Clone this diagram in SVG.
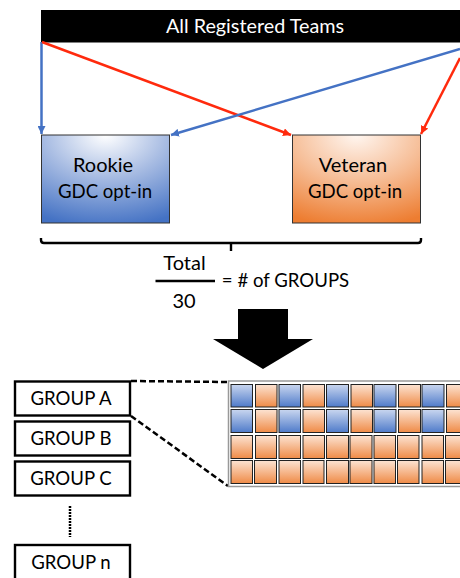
<svg xmlns="http://www.w3.org/2000/svg" width="460" height="578" viewBox="0 0 460 578">
<defs>
<radialGradient id="gb" cx="50%" cy="0%" r="105%"><stop offset="0" stop-color="#ffffff"/><stop offset="0.45" stop-color="#a9bde3"/><stop offset="1" stop-color="#4472c4"/></radialGradient>
<radialGradient id="go" cx="50%" cy="0%" r="105%"><stop offset="0" stop-color="#fff6f0"/><stop offset="0.5" stop-color="#f6bd96"/><stop offset="1" stop-color="#ed7d31"/></radialGradient>
<linearGradient id="cb" x1="0" y1="0" x2="0" y2="1"><stop offset="0" stop-color="#c9d6ef"/><stop offset="1" stop-color="#4f7bca"/></linearGradient>
<linearGradient id="co" x1="0" y1="0" x2="0" y2="1"><stop offset="0" stop-color="#fce3d2"/><stop offset="1" stop-color="#ef8b47"/></linearGradient>
<marker id="ab" markerUnits="userSpaceOnUse" markerWidth="9" markerHeight="8" refX="8" refY="4" orient="auto"><path d="M0 0L8 4L0 8Z" fill="#4472c4"/></marker>
<marker id="ar" markerUnits="userSpaceOnUse" markerWidth="9" markerHeight="8" refX="8" refY="4" orient="auto"><path d="M0 0L8 4L0 8Z" fill="#ff2a0d"/></marker>
</defs>
<style>
text{font-family:Lato,"Liberation Sans",sans-serif;fill:#000;text-anchor:middle}
.t{font-size:18.600px}
.h{font-size:19.800px;fill:#fff}
.f{font-size:20px}
.box{fill:#fff;stroke:#000;stroke-width:2.400}
.b{fill:url(#cb)}
.o{fill:url(#co)}
.cell{stroke:#222;stroke-width:1}
.blue{stroke:#4472c4;stroke-width:2.500;fill:none;marker-end:url(#ab)}
.red{stroke:#ff2a0d;stroke-width:2.500;fill:none;marker-end:url(#ar)}
.dash{stroke:#000;stroke-width:2.500;stroke-dasharray:6 3;fill:none}
</style>
<rect width="460" height="578" fill="#fff"/>
<g id="all-teams"><rect x="41" y="10" width="419" height="32.500" fill="#000"/><text x="255" y="33" class="h">All Registered Teams</text></g>
<g id="rookie"><rect x="41.500" y="135" width="128" height="88" fill="url(#gb)" stroke="#333" stroke-width="1"/><text x="103" y="172" class="f">Rookie</text><text x="105" y="198" class="t">GDC opt-in</text></g>
<g id="veteran"><rect x="292.500" y="135" width="128" height="88" fill="url(#go)" stroke="#333" stroke-width="1"/><text x="353" y="172" class="f">Veteran</text><text x="355" y="198" class="t">GDC opt-in</text></g>
<g id="connectors">
<path class="blue" d="M41.500 42V134"/>
<path class="red" d="M42 42L291 135"/>
<path class="blue" d="M460 49L171 135"/>
<path class="red" d="M460 58L421 134"/>
<path class="dash" d="M131 381L228 382"/>
<path class="dash" d="M131 416L228 486"/>
<path d="M70 506V537" stroke="#000" stroke-width="2.500" stroke-dasharray="2 1" fill="none"/>
</g>
<g id="brace"><path d="M41 238V240Q41 243 44 243H418Q421 243 421 240V238M231 243V251" fill="none" stroke="#000" stroke-width="2.400"/></g>
<g id="formula"><text x="184.500" y="270" class="f">Total</text><path d="M155.500 281H215" stroke="#000" stroke-width="2.400"/><text x="184" y="308" class="f">30</text><text x="285.500" y="287" class="t">= # of GROUPS</text></g>
<g id="big-arrow"><path d="M238 309H288V339H313L263 369L213 339H238Z" fill="#000"/></g>
<g id="group-a"><rect class="box" x="15" y="381.500" width="115" height="34"/><text x="71" y="405" class="t">GROUP A</text></g>
<g id="group-b"><rect class="box" x="15" y="421.500" width="115" height="34"/><text x="71" y="445" class="t">GROUP B</text></g>
<g id="group-c"><rect class="box" x="15" y="461.500" width="115" height="34"/><text x="71" y="485" class="t">GROUP C</text></g>
<g id="group-n"><rect class="box" x="15" y="545" width="115" height="36"/><text x="71" y="569" class="t">GROUP n</text></g>
<g id="grid">
<rect x="228.500" y="381" width="240" height="105.500" fill="#fff" stroke="#999" stroke-width="1.500"/>
<rect class="cell b" x="231" y="384.500" width="21.500" height="22.500"/><rect class="cell o" x="255.500" y="384.500" width="21.500" height="22.500"/><rect class="cell b" x="279" y="384.500" width="21.500" height="22.500"/><rect class="cell o" x="303" y="384.500" width="21.500" height="22.500"/><rect class="cell b" x="326.500" y="384.500" width="22" height="22.500"/><rect class="cell o" x="351" y="384.500" width="21.500" height="22.500"/><rect class="cell b" x="374" y="384.500" width="22" height="22.500"/><rect class="cell o" x="398.500" y="384.500" width="22" height="22.500"/><rect class="cell b" x="422" y="384.500" width="22" height="22.500"/><rect class="cell o" x="446.500" y="384.500" width="22" height="22.500"/>
<rect class="cell b" x="231" y="409.500" width="21.500" height="23"/><rect class="cell o" x="255.500" y="409.500" width="21.500" height="23"/><rect class="cell b" x="279" y="409.500" width="21.500" height="23"/><rect class="cell o" x="303" y="409.500" width="21.500" height="23"/><rect class="cell b" x="326.500" y="409.500" width="22" height="23"/><rect class="cell o" x="351" y="409.500" width="21.500" height="23"/><rect class="cell b" x="374" y="409.500" width="22" height="23"/><rect class="cell o" x="398.500" y="409.500" width="22" height="23"/><rect class="cell b" x="422" y="409.500" width="22" height="23"/><rect class="cell o" x="446.500" y="409.500" width="22" height="23"/>
<rect class="cell o" x="231" y="435.500" width="21.500" height="23"/><rect class="cell o" x="255.500" y="435.500" width="21" height="23"/><rect class="cell o" x="279" y="435.500" width="21.500" height="23"/><rect class="cell o" x="303" y="435.500" width="21.500" height="23"/><rect class="cell o" x="326.500" y="435.500" width="22" height="23"/><rect class="cell o" x="350" y="435.500" width="22" height="23"/><rect class="cell o" x="374" y="435.500" width="21.500" height="23"/><rect class="cell o" x="397.500" y="435.500" width="21.500" height="23"/><rect class="cell o" x="422" y="435.500" width="21.500" height="23"/><rect class="cell o" x="445.500" y="435.500" width="22" height="23"/>
<rect class="cell o" x="231" y="460.500" width="21.500" height="23"/><rect class="cell o" x="254.500" y="460.500" width="22" height="23"/><rect class="cell o" x="279" y="460.500" width="21.500" height="23"/><rect class="cell o" x="303" y="460.500" width="21" height="23"/><rect class="cell o" x="326.500" y="460.500" width="22" height="23"/><rect class="cell o" x="350" y="460.500" width="22" height="23"/><rect class="cell o" x="374" y="460.500" width="21.500" height="23"/><rect class="cell o" x="397.500" y="460.500" width="21.500" height="23"/><rect class="cell o" x="422" y="460.500" width="21.500" height="23"/><rect class="cell o" x="445.500" y="460.500" width="22" height="23"/>
</g>
</svg>
